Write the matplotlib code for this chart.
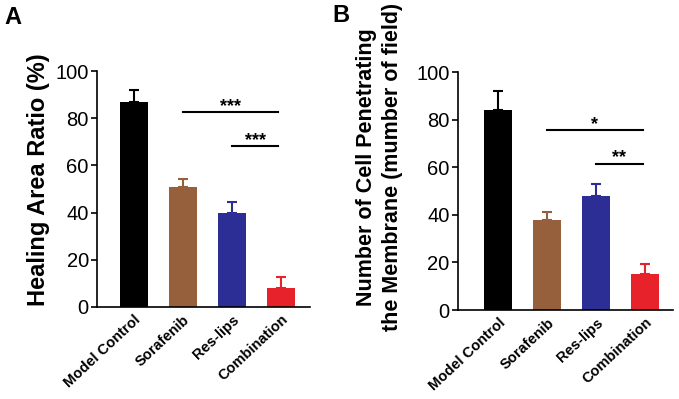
import numpy as np
import matplotlib.pyplot as plt

plt.rcParams['font.family'] = ['Liberation Sans', 'DejaVu Sans']

groups = ['Model Control', 'Sorafenib', 'Res-lips', 'Combination']
colors = ['#000000', '#96603c', '#2c2e96', '#e8222b']

healing = [87, 51, 40, 8]
healing_err = [5, 3, 4.5, 4.5]

penetrating = [84, 38, 48, 15]
penetrating_err = [8, 3, 5, 4.5]

# significance brackets: (x_from, x_to, y, label)
sig_a = [(1, 2.95, 82.5, '***'), (2, 2.95, 68, '***')]
sig_b = [(1, 2.95, 75.5, '*'), (2, 2.95, 61.5, '**')]


def bar_panel(ax, values, errs, ylabel, sigs, xlim, label_size, label_xy):
    x = np.arange(len(groups))
    for i in x:
        ax.bar(i, values[i], width=0.56, color=colors[i], zorder=2)
        ax.errorbar(i, values[i], yerr=[[0], [errs[i]]], color=colors[i],
                    capsize=3.5, elinewidth=1.5, capthick=1.5, zorder=1)
    for x0, x1, y, lab in sigs:
        ax.plot([x0, x1], [y, y], color='black', lw=1.5)
        ax.text((x0 + x1) / 2, y - 1, lab, ha='center', va='bottom',
                fontsize=13, fontweight='bold')
    ax.set_xlim(*xlim)
    ax.set_ylim(0, 100)
    ax.set_yticks([0, 20, 40, 60, 80, 100])
    ax.tick_params(axis='y', labelsize=14.5, length=4, width=1.2, pad=2)
    ax.set_xticks(x)
    ax.set_xticklabels(groups, rotation=43, ha='right', rotation_mode='anchor',
                       fontsize=10.5, fontweight='bold')
    ax.tick_params(axis='x', length=0, pad=4)
    ax.spines['top'].set_visible(False)
    ax.spines['right'].set_visible(False)
    ax.spines['left'].set_linewidth(1.2)
    ax.spines['bottom'].set_linewidth(1.2)
    ax.set_ylabel(ylabel, fontsize=label_size, fontweight='bold', linespacing=1.35)
    ax.yaxis.set_label_coords(*label_xy)


fig = plt.figure(figsize=(6.79, 3.99), dpi=100)
ax1 = fig.add_axes([0.143, 0.231, 0.314, 0.591])
ax2 = fig.add_axes([0.6745, 0.223, 0.3166, 0.5965])

bar_panel(ax1, healing, healing_err, 'Healing Area Ratio (%)', sig_a,
          (-0.75, 3.6), 17, (-0.22, 0.54))
bar_panel(ax2, penetrating, penetrating_err,
          'Number of Cell Penetrating\nthe Membrane (mumber of field)', sig_b,
          (-0.82, 3.57), 15.5, (-0.255, 0.6))

fig.text(0.006, 0.94, 'A', fontsize=17, fontweight='bold')
fig.text(0.489, 0.945, 'B', fontsize=17, fontweight='bold')

fig.savefig('out.png', dpi=100)
